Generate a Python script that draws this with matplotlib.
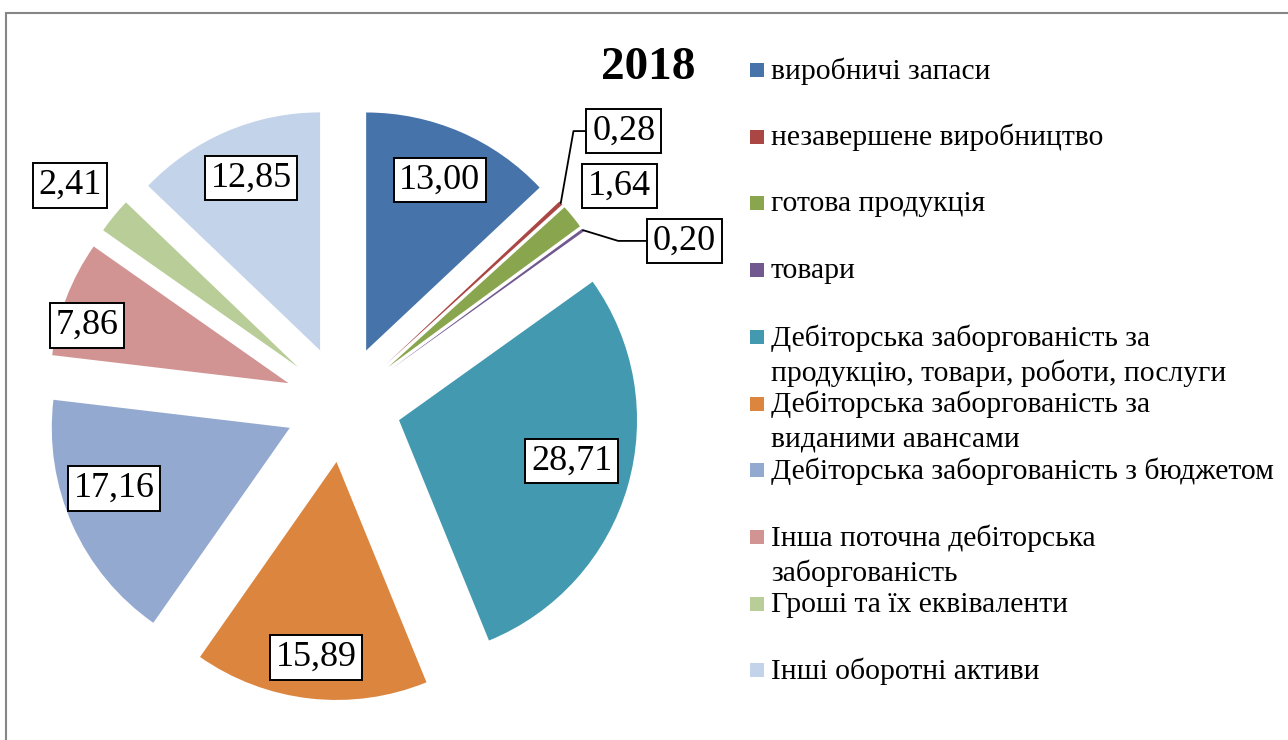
import numpy as np
import matplotlib.pyplot as plt
from matplotlib.patches import Rectangle

plt.rcParams['font.family'] = ['Liberation Serif', 'DejaVu Serif']

title = "2018"
categories = [
    "виробничі запаси",
    "незавершене виробництво",
    "готова продукція",
    "товари",
    "Дебіторська заборгованість за\nпродукцію, товари, роботи, послуги",
    "Дебіторська заборгованість за\nвиданими авансами",
    "Дебіторська заборгованість з бюджетом",
    "Інша поточна дебіторська\nзаборгованість",
    "Гроші та їх еквіваленти",
    "Інші оборотні активи",
]
values = [13.00, 0.28, 1.64, 0.20, 28.71, 15.89, 17.16, 7.86, 2.41, 12.85]
colors = ["#4673A9", "#AA4643", "#89A54E", "#71588F", "#4299B0",
          "#DC853E", "#94A9D0", "#D29493", "#B8CD97", "#C3D3E9"]

# where the value boxes sit: distance past the wedge apex (radii) and angle shift (deg)
lab_frac = [0.78, 1.40, 1.235, 1.345, 0.745, 0.825, 0.78, 0.88, 1.225, 0.78]
lab_shift = [0, 1.5, -1, -10.4, 2.1, 0.3, -3.9, 3.9, 0.7, -1]
leader_angle = [None, 80, None, -17, None, None, None, None, None, None]

W, H = 1288, 740
cx, cy, R = 343, 404, 238  # pie centre and radius in pixels
expl = 0.245

fig = plt.figure(figsize=(W / 100, H / 100), dpi=100)
ax = fig.add_axes([0, 0, 1, 1])

wedges, _ = ax.pie(values, colors=colors, startangle=90, counterclock=False,
                   explode=[expl] * len(values), radius=1,
                   wedgeprops=dict(linewidth=0))
ax.set_xlim(-cx / R, (W - cx) / R)
ax.set_ylim(-(H - cy) / R, cy / R)
ax.set_aspect('equal')
ax.axis('off')

box = dict(boxstyle='square,pad=0.16', fc='white', ec='black', lw=1.4)
for i, w in enumerate(wedges):
    mid = np.deg2rad((w.theta1 + w.theta2) / 2)
    ang = mid + np.deg2rad(lab_shift[i])
    r = expl + lab_frac[i]
    pos = (r * np.cos(ang), r * np.sin(ang))
    txt = f"{values[i]:.2f}".replace('.', ',')
    if leader_angle[i] is None:
        ax.text(pos[0], pos[1], txt, ha='center', va='center', fontsize=26, bbox=box)
    else:
        tip = ((1 + expl) * np.cos(mid), (1 + expl) * np.sin(mid))
        ax.annotate(txt, xy=tip, xytext=pos, ha='center', va='center', fontsize=26,
                    bbox=box,
                    arrowprops=dict(arrowstyle='-', color='black', lw=1.3,
                                    shrinkA=0, shrinkB=0,
                                    connectionstyle=f"angle,angleA=0,angleB={leader_angle[i]},rad=0"))

fig.text(648 / W, 1 - 68 / H, title, ha='center', va='center', fontsize=34, fontweight='bold')

# legend drawn by hand, markers equally spaced, text lines aligned to marker
for i, (lab, col) in enumerate(zip(categories, colors)):
    py = 70 + i * 66.7
    fig.patches.append(Rectangle((750 / W, 1 - (py + 7) / H), 14 / W, 14 / H,
                                 transform=fig.transFigure, fc=col, ec='none'))
    for k, line in enumerate(lab.split('\n')):
        fig.text(771 / W, 1 - (py + 1 + k * 35) / H, line, ha='left', va='center', fontsize=21.3)

# chart area border
fig.patches.append(Rectangle((6 / W, -0.1), 1.2, 1.1 - 13 / H, transform=fig.transFigure,
                             fill=False, ec='#868686', lw=1.5))

fig.savefig('out.png', dpi=100)
